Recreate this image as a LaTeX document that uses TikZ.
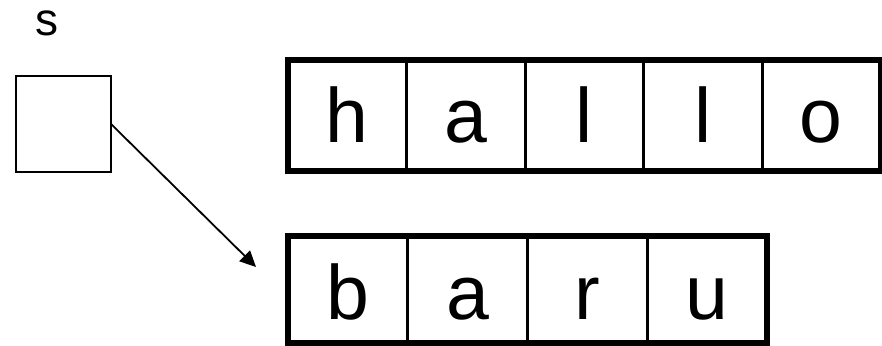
\documentclass[tikz,border=0pt]{standalone}
\usepackage{fontspec}
\setmainfont{Liberation Sans}
\usetikzlibrary{arrows.meta}
\begin{document}
\begin{tikzpicture}[x=1pt,y=1pt]
\tikzset{
  cell/.style={draw, line width=3pt, outer sep=0pt, inner sep=0pt,
    font=\fontsize{77}{77}\selectfont, text depth=0pt},
  topcell/.style={cell, minimum width=118.5pt, minimum height=111pt, text height=55pt},
  botcell/.style={cell, minimum width=119.75pt, minimum height=107pt, text height=59pt},
  frame/.style={line width=6pt},
  ptrbox/.style={draw, line width=1.6pt, minimum width=95pt, minimum height=96pt, outer sep=0pt, inner sep=0pt},
  link/.style={-{Triangle[length=16pt,width=15pt]}, line width=1.8pt},
  varname/.style={font=\fontsize{46}{46}\selectfont, anchor=base, inner sep=0pt}
}
\useasboundingbox (0,0) rectangle (882,345);
% pointer variable
\node[varname] (s) at (46.5,309) {s};
\node[ptrbox] (sq) at (63.5,221) {};
% top array "hallo"
\node[topcell] (h1) at (347.25,229.5) {h};
\node[topcell] (h2) at (465.75,229.5) {a};
\node[topcell] (h3) at (584.25,229.5) {l};
\node[topcell] (h4) at (702.75,229.5) {l};
\node[topcell] (h5) at (821.25,229.5) {o};
\draw[frame] (h1.north west) rectangle (h5.south east);
% bottom array "baru"
\node[botcell] (b1) at (347.875,55.5) {b};
\node[botcell] (b2) at (467.625,55.5) {a};
\node[botcell] (b3) at (587.375,55.5) {r};
\node[botcell] (b4) at (707.125,55.5) {u};
\draw[frame] (b1.north west) rectangle (b4.south east);
% arrow
\coordinate (tip) at (256,78);
\draw[link] (sq.east) -- (tip);
\end{tikzpicture}
\end{document}
